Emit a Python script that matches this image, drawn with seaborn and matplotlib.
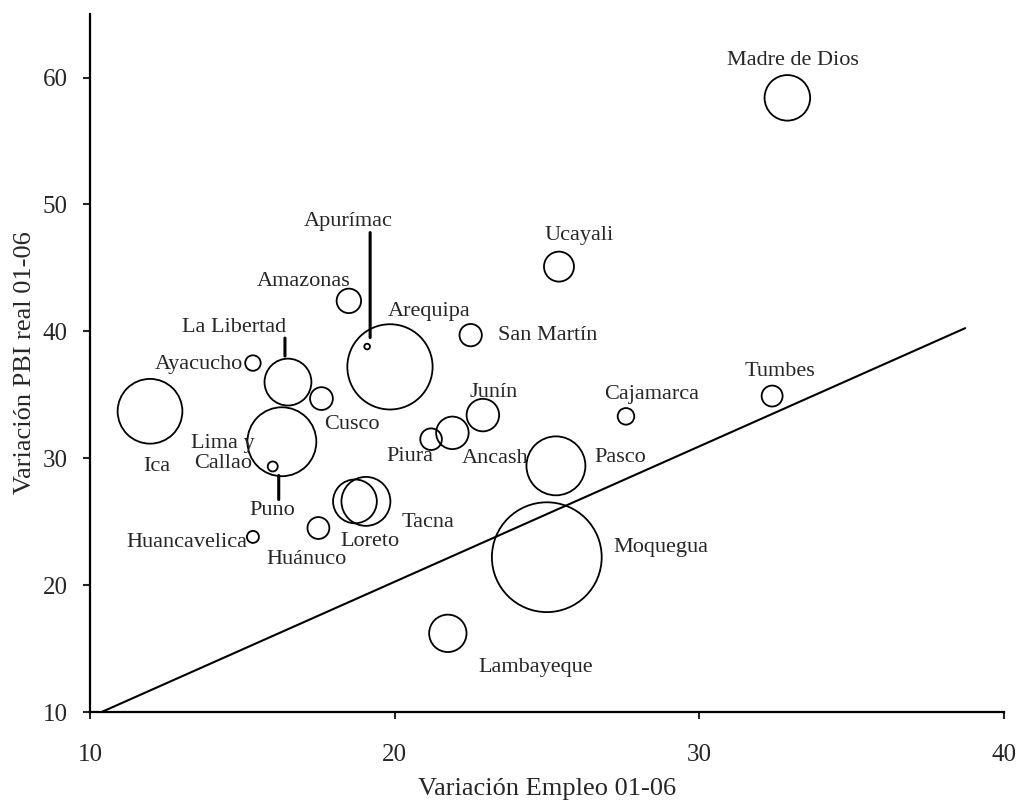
import numpy as np
import pandas as pd
import matplotlib
matplotlib.use("Agg")
import matplotlib.pyplot as plt
import seaborn as sns
from matplotlib.transforms import offset_copy

# Data
regiones = ["Madre de Dios", "Ucayali", "Amazonas", "Apurímac", "Arequipa",
            "San Martín", "La Libertad", "Ayacucho", "Cusco", "Ica",
            "Lima y\nCallao", "Puno", "Piura", "Ancash", "Junín", "Cajamarca",
            "Tumbes", "Pasco", "Loreto", "Tacna", "Huánuco", "Huancavelica",
            "Moquegua", "Lambayeque"]
var_empleo = [32.9, 25.4, 18.5, 19.1, 19.85, 22.5, 16.5, 15.35, 17.6, 11.97,
              16.3, 16.0, 21.2, 21.9, 22.9, 27.6, 32.4, 25.3, 18.7, 19.06,
              17.5, 15.35, 25.0, 21.75]
var_pbi = [58.4, 45.1, 42.4, 38.8, 37.2, 39.7, 36.0, 37.5, 34.7, 33.7,
           31.3, 29.35, 31.5, 32.0, 33.4, 33.3, 34.9, 29.4, 26.6, 26.6,
           24.5, 23.8, 22.2, 16.2]
peso = [52, 22.5, 15, 0.8, 182, 12.5, 55, 6, 13, 105,
        119, 2.5, 11.7, 26.5, 26.5, 6.9, 11, 87, 48, 60,
        12, 3.6, 302, 35]

linea_x = [10.38, 38.74]
linea_y = [10.0, 40.25]

xticks = [10, 20, 30, 40]
yticks = [10, 20, 30, 40, 50, 60]

df = pd.DataFrame({"region": regiones, "empleo": var_empleo,
                   "pbi": var_pbi, "peso": peso})

# label offsets in pixels (dx, dy) from the bubble centre
offsets = {
    "Madre de Dios": (6, 37), "Ucayali": (20, 31), "Amazonas": (-45, 19),
    "Apurímac": (-19, 125), "Arequipa": (39, 55), "San Martín": (77, 0),
    "La Libertad": (-54, 55), "Ayacucho": (-54, -1), "Cusco": (30, -26),
    "Ica": (7, -55), "Lima y\nCallao": (-59, -12), "Puno": (0, -44),
    "Piura": (-21, -17), "Ancash": (43, -26), "Junín": (11, 23),
    "Cajamarca": (26, 22), "Tumbes": (8, 25), "Pasco": (64, 8),
    "Loreto": (15, -40), "Tacna": (62, -21), "Huánuco": (-12, -31),
    "Huancavelica": (-66, -6), "Moquegua": (114, 10), "Lambayeque": (88, -34),
}
# leader lines: (dx, y from, y to) in pixels
leaders = {"Apurímac": (3, 9, 114), "La Libertad": (-3, 26, 44), "Puno": (6, -9, -33)}

sns.set_style("ticks")
plt.rcParams["font.family"] = ["Liberation Serif", "DejaVu Serif"]

fig = plt.figure(figsize=(10.23, 8.05), dpi=100)
ax = fig.add_axes([0.088, 0.1155, 0.893, 0.867])

smax = 2.07 * 10 * max(peso)
sns.scatterplot(data=df, x="empleo", y="pbi", size="peso",
                sizes=(0, smax), size_norm=(0, max(peso)),
                facecolors="none", edgecolor="black", linewidth=1.3,
                legend=False, ax=ax, zorder=3)
sns.lineplot(x=linea_x, y=linea_y, color="black", linewidth=1.5, ax=ax)

for _, row in df.iterrows():
    dx, dy = offsets[row["region"]]
    ax.annotate(row["region"], (row["empleo"], row["pbi"]),
                xytext=(dx, dy), textcoords="offset pixels",
                ha="center", va="center", fontsize=16, linespacing=1.1)
    if row["region"] in leaders:
        lx, y0, y1 = leaders[row["region"]]
        tr = offset_copy(ax.transData, fig=fig, x=lx, y=y0, units="dots")
        ax.annotate("", xy=(row["empleo"], row["pbi"]), xycoords=tr,
                    xytext=(0, y1 - y0), textcoords="offset pixels",
                    arrowprops=dict(arrowstyle="-", lw=2.2, color="black",
                                    shrinkA=0, shrinkB=0))

ax.set_xlim(10, 40)
ax.set_ylim(10, 65)
ax.set_xticks(xticks)
ax.set_yticks(yticks)
ax.set_xlabel("Variación Empleo 01-06", fontsize=19, labelpad=9)
ax.set_ylabel("Variación PBI real 01-06", fontsize=19, labelpad=5)
ax.tick_params(axis="x", labelsize=18, length=5, width=1.5, pad=18)
ax.tick_params(axis="y", labelsize=18, length=5, width=1.5, pad=11)
sns.despine(ax=ax)
for s in ["left", "bottom"]:
    ax.spines[s].set_linewidth(1.6)
    ax.spines[s].set_color("black")

fig.savefig("out.png", dpi=100)
